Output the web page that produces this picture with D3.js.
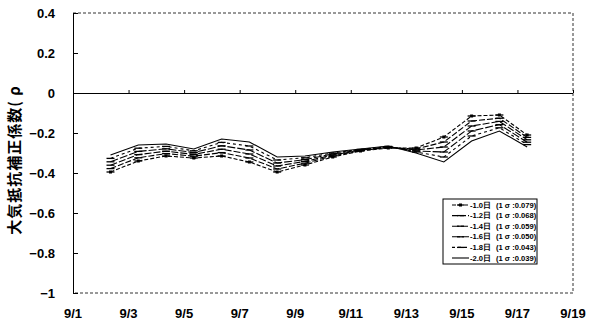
<!DOCTYPE html>
<html lang="ja">
  <head>
    <meta charset="UTF-8" />
    <title>大気抵抗補正係数</title>
    <script src="https://d3js.org/d3.v7.min.js"></script>
    <style>
      body {
        margin: 0;
        background: #fff;
      }
      .tick-label {
        font-family: "Liberation Sans", Arial, sans-serif;
        font-weight: bold;
        font-size: 13px;
      }
      .legend text {
        font-family: "Liberation Sans", Arial, sans-serif;
        font-weight: bold;
        font-size: 7.6px;
      }
    </style>
  </head>
  <body>
    <svg id="chart" width="592" height="326"></svg>
    <script>
      // day of September for each observation
      const days = [2.35, 3.35, 4.35, 5.35, 6.35, 7.35, 8.35, 9.35, 10.35, 11.35, 12.35, 13.35, 14.35, 15.35, 16.35, 17.35];

      const s10 = [-0.395, -0.34, -0.315, -0.325, -0.315, -0.345, -0.395, -0.36, -0.32, -0.29, -0.275, -0.275, -0.22, -0.115, -0.11, -0.21];
      const s12 = [-0.378, -0.324, -0.303, -0.316, -0.298, -0.325, -0.38, -0.351, -0.315, -0.288, -0.273, -0.28, -0.245, -0.14, -0.126, -0.222];
      const s14 = [-0.361, -0.308, -0.291, -0.307, -0.281, -0.305, -0.365, -0.342, -0.31, -0.286, -0.271, -0.285, -0.27, -0.165, -0.142, -0.234];
      const s16 = [-0.344, -0.292, -0.279, -0.298, -0.264, -0.285, -0.35, -0.333, -0.305, -0.284, -0.269, -0.29, -0.295, -0.19, -0.158, -0.246];
      const s18 = [-0.327, -0.276, -0.267, -0.289, -0.247, -0.265, -0.335, -0.324, -0.3, -0.282, -0.267, -0.295, -0.32, -0.215, -0.174, -0.258];
      const s20 = [-0.31, -0.26, -0.255, -0.28, -0.23, -0.245, -0.32, -0.315, -0.295, -0.28, -0.265, -0.3, -0.345, -0.24, -0.19, -0.27];

      const seriesNames = ["-1.0日", "-1.2日", "-1.4日", "-1.6日", "-1.8日", "-2.0日"];
      const sigmas = ["(1 σ :0.079)", "(1 σ :0.068)", "(1 σ :0.059)", "(1 σ :0.050)", "(1 σ :0.043)", "(1 σ :0.039)"];
      const xTicks = [1, 3, 5, 7, 9, 11, 13, 15, 17, 19];
      const yTicks = [0.4, 0.2, 0, -0.2, -0.4, -0.6, -0.8, -1];

      const allSeries = [s10, s12, s14, s16, s18, s20];
      const dashes = ["4,2", "6,2", "7,2", "8,2", "3,3", null];
      const markers = ["square", "dash", "dash", "dash", "dash", "none"];

      const svg = d3.select("#chart");
      const margin = { top: 13, right: 19, bottom: 33, left: 73 };
      const width = +svg.attr("width") - margin.left - margin.right;
      const height = +svg.attr("height") - margin.top - margin.bottom;
      const g = svg.append("g").attr("transform", `translate(${margin.left},${margin.top})`);

      const x = d3.scaleLinear().domain([1, 19]).range([0, width]);
      const y = d3.scaleLinear().domain([-1, 0.4]).range([height, 0]);

      // dotted frame on top, right and bottom
      const frame = g.append("g").attr("fill", "none").attr("stroke", "#333").attr("stroke-dasharray", "3,2");
      frame.append("path").attr("d", `M0,0H${width}V${height}H0`);

      // y axis (ticks inside)
      const yAxis = g.append("g").call(
        d3.axisRight(y).tickValues(yTicks).tickSize(5).tickFormat("")
      );
      yAxis.select(".domain").attr("stroke", "#000").attr("d", `M0.5,0V${height}`);
      yAxis.selectAll(".tick line").attr("stroke", "#000");

      g.append("g")
        .selectAll("text")
        .data(yTicks)
        .join("text")
        .attr("class", "tick-label")
        .attr("x", -18)
        .attr("y", (d) => y(d))
        .attr("dy", "0.35em")
        .attr("text-anchor", "end")
        .text((d) => d3.format("")(d).replace("-", "−"));

      // zero line with small upward ticks
      const zAxis = g.append("g").attr("transform", `translate(0,${y(0)})`).call(
        d3.axisTop(x).tickValues(xTicks).tickSize(3).tickFormat("")
      );
      zAxis.select(".domain").attr("stroke", "#000").attr("d", `M0,0.5H${width}`);
      zAxis.selectAll(".tick line").attr("stroke", "#000");

      // date labels
      g.append("g")
        .selectAll("text")
        .data(xTicks)
        .join("text")
        .attr("class", "tick-label")
        .attr("x", (d) => x(d))
        .attr("y", height + 25)
        .attr("text-anchor", "middle")
        .text((d) => "9/" + d);

      // y title
      svg.append("text")
        .attr("transform", "translate(15,160) rotate(-90)")
        .attr("text-anchor", "middle")
        .attr("dy", "0.35em")
        .style("font-family", "'Noto Sans CJK JP', sans-serif")
        .style("font-weight", "bold")
        .style("font-size", "15px")
        .style("letter-spacing", "1px")
        .text("大気抵抗補正係数( ρ");

      // series lines
      const line = d3.line().x((d, i) => x(days[i])).y((d) => y(d));

      allSeries.forEach((s, k) => {
        g.append("path")
          .datum(s)
          .attr("fill", "none")
          .attr("stroke", "#000")
          .attr("stroke-width", 1.1)
          .attr("stroke-dasharray", dashes[k])
          .attr("d", line);

        if (markers[k] === "dash" || markers[k] === "square") {
          g.append("g")
            .selectAll("line")
            .data(s)
            .join("line")
            .attr("x1", (d, i) => x(days[i]) - 4)
            .attr("x2", (d, i) => x(days[i]) + 4)
            .attr("y1", (d) => y(d))
            .attr("y2", (d) => y(d))
            .attr("stroke", "#000")
            .attr("stroke-width", 1.3);
        }
        if (markers[k] === "square") {
          g.append("g")
            .selectAll("rect")
            .data(s)
            .join("rect")
            .attr("x", (d, i) => x(days[i]) - 1.5)
            .attr("y", (d) => y(d) - 1.5)
            .attr("width", 3)
            .attr("height", 3)
            .attr("fill", "#000");
        }
      });

      // legend
      const legend = svg.append("g").attr("class", "legend").attr("transform", "translate(443,199)");
      legend.append("rect")
        .attr("width", 94)
        .attr("height", 65)
        .attr("fill", "#fff")
        .attr("stroke", "#000")
        .attr("stroke-width", 1);

      seriesNames.forEach((name, k) => {
        const row = legend.append("g").attr("transform", `translate(0,${6 + k * 10.6})`);
        row.append("line")
          .attr("x1", 9)
          .attr("x2", 26)
          .attr("stroke", "#000")
          .attr("stroke-width", 1.1)
          .attr("stroke-dasharray", dashes[k]);
        if (markers[k] !== "none") {
          row.append("line")
            .attr("x1", 14)
            .attr("x2", 21)
            .attr("stroke", "#000")
            .attr("stroke-width", 1.3);
        }
        if (markers[k] === "square") {
          row.append("rect").attr("x", 16).attr("y", -1.5).attr("width", 3).attr("height", 3);
        }
        row.append("text").attr("x", 27).attr("dy", "0.35em").text(name);
        row.append("text").attr("x", 53).attr("dy", "0.35em").text(sigmas[k]);
      });
    </script>
  </body>
</html>
